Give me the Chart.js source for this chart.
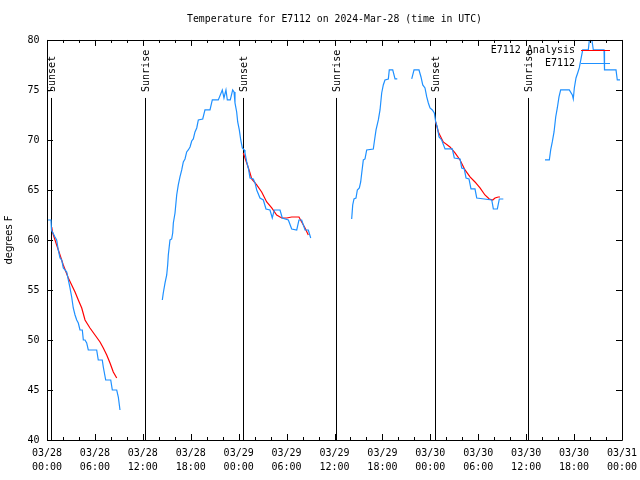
<!DOCTYPE html>
<html>
<head>
<meta charset="utf-8">
<script src="https://cdn.jsdelivr.net/npm/chart.js@4.4.0/dist/chart.umd.min.js"></script>
<style>
  html, body { margin: 0; padding: 0; background: #ffffff; }
  #wrap { width: 640px; height: 480px; }
</style>
</head>
<body>
<div id="wrap"><canvas id="c" width="640" height="480"></canvas></div>
<script>
// ---------- DATA ----------
const chartTitle = 'Temperature for E7112 on 2024-Mar-28 (time in UTC)';
const yAxisTitle = 'degrees F';

// x tick labels (every 6 hours from 03/28 00:00 UTC)
const tickDates = ['03/28','03/28','03/28','03/28','03/29','03/29','03/29','03/29','03/30','03/30','03/30','03/30','03/31'];
const tickTimes = ['00:00','06:00','12:00','18:00','00:00','06:00','12:00','18:00','00:00','06:00','12:00','18:00','00:00'];

// sunrise / sunset markers (hours since 03/28 00:00)
const eventHours  = [0.5, 12.31, 24.58, 36.19, 48.63, 60.27];
const eventLabels = ['Sunset','Sunrise','Sunset','Sunrise','Sunset','Sunrise'];

// Observed series "E7112" (hours since start, deg F); null = gap
const obsHours = [
  0.13,0.5,0.56,1.0,1.21,1.41,1.63,1.84,2.04,2.25,2.47,2.67,2.88,3.09,3.29,3.51,3.72,3.92,4.13,4.42,4.55,4.76,4.97,5.17,6.22,6.42,6.92,7.05,7.35,7.98,8.18,8.73,8.93,9.14,
  11.5,
  14.44,14.56,14.78,14.99,15.11,15.19,15.40,15.61,15.74,15.82,16.03,16.24,16.44,16.65,16.87,17.07,17.28,17.49,17.69,17.91,18.12,18.32,18.53,18.75,18.95,19.50,19.78,20.41,20.70,21.45,21.95,22.16,22.41,22.58,22.95,23.25,23.42,23.54,23.75,23.88,24.08,24.26,24.46,24.71,24.79,25.01,25.21,25.42,25.83,26.05,26.26,26.67,27.09,27.42,27.92,28.21,28.46,29.18,29.46,30.22,30.64,31.27,31.55,31.89,32.31,32.72,33.02,
  35.5,
  38.15,38.28,38.44,38.69,38.86,39.11,39.28,39.41,39.61,39.82,40.03,40.86,40.98,41.20,41.49,41.70,41.91,42.11,42.32,42.74,42.86,43.29,43.58,43.86,
  44.8,
  45.67,45.96,46.58,46.83,47.05,47.33,47.55,47.75,47.96,48.25,48.50,48.67,48.87,49.09,49.42,49.84,50.75,51.00,51.72,51.93,52.25,52.47,52.84,53.09,53.59,53.81,54.76,55.69,55.89,56.39,56.64,57.14,
  60.0,
  62.36,62.90,63.07,63.27,63.49,63.70,63.90,64.11,64.32,65.40,65.78,65.90,66.03,66.24,66.45,66.65,67.08,67.78,68.05,68.41,69.75,69.81,71.25,71.41,71.75
];
const obsTemps = [
  62,62,61,60.3,60,59,58.2,58,57.2,57,56.8,56,55.2,54.3,53.2,52.5,52,51.7,51,51,50,50,49.7,49,49,48,48,47.3,46,46,45,45,44.3,43,
  null,
  54,54.7,55.7,56.5,57.5,58.5,60,60.1,60.7,61.7,62.7,64.5,65.5,66.3,67,67.8,68.1,68.8,69,69.3,69.9,70.1,70.8,71.2,72,72.1,73,73,74,74,75,74.2,75,74,74,75,74.8,73.7,72.8,71.8,71,70,69.2,69,68.7,67.8,67.2,66.2,66.1,65.7,65,64.2,64,63.1,63,62.2,63,63,62.2,62,61.1,61,62,62,61,61,60.2,
  null,
  62.1,63.5,64.1,64.2,65,65.2,65.8,66.7,68,68.1,69,69.1,69.8,71,72,73,74.7,75.5,76,76.1,77,77,76.1,76.1,
  null,
  76.1,77,77,76.3,75.5,75.2,74.3,73.7,73.2,73,72.7,71.8,71.3,70.3,70,69.1,69.1,68.2,68.1,67.2,67.1,66.2,66.1,65.1,65.1,64.2,64.1,64,63.1,63.1,64.1,64.1,
  null,
  68,68,69,69.8,70.8,72.3,73.2,74.3,75,75,74.5,74.1,75.2,76.2,76.7,77.2,79,79,81,79,79,77,77,76,76
];

// Analysis series "E7112 Analysis"
const anaHours = [
  0.59,0.71,1.21,1.63,2.04,2.67,3.09,3.51,3.92,4.35,4.76,5.38,6.01,6.64,7.05,7.48,7.89,8.30,8.73,
  16.0,
  24.58,25.01,25.42,25.63,26.26,26.88,27.51,28.14,28.76,29.39,30.02,30.64,31.55,31.89,32.31,32.72,
  40.0,
  48.67,49.00,49.62,50.46,51.09,51.72,52.34,52.97,53.59,54.22,54.84,55.38,55.81,56.10,56.51,56.72
];
const anaTemps = [
  61.3,60.7,59.5,58.5,57.5,56.2,55.5,54.8,54,53.2,52,51.2,50.5,49.8,49.2,48.5,47.7,46.8,46.2,
  null,
  68.7,67.7,66.7,66.1,65.5,64.8,63.8,63.2,62.5,62.2,62.2,62.3,62.3,61.8,61.2,60.5,
  null,
  71.8,70.8,69.8,69.3,68.7,68,67,66.3,65.8,65.2,64.5,64.1,64,64.2,64.3,64.3
];

// ---------- BUILD ----------
const toPts = (xs, ys) => xs.map((x, i) => ({ x: x, y: ys[i] }));
const MONO = '"DejaVu Sans Mono", "Liberation Mono", monospace';

const eventPlugin = {
  id: 'events',
  beforeDatasetsDraw(chart) {
    const { ctx, chartArea, scales } = chart;
    const h = chartArea.bottom - chartArea.top;
    ctx.save();
    ctx.strokeStyle = '#000';
    ctx.lineWidth = 1;
    ctx.fillStyle = '#000';
    ctx.font = '10px ' + MONO;
    eventHours.forEach((hr, i) => {
      const x = Math.round(scales.x.getPixelForValue(hr)) + 0.5;
      const yTop = chartArea.top + 0.145 * h;
      ctx.beginPath();
      ctx.moveTo(x, yTop);
      ctx.lineTo(x, chartArea.bottom);
      ctx.stroke();
      ctx.save();
      ctx.translate(x + 1, chartArea.top + 0.13 * h);
      ctx.rotate(-Math.PI / 2);
      ctx.textAlign = 'left';
      ctx.textBaseline = 'middle';
      ctx.fillText(eventLabels[i], 0, 0);
      ctx.restore();
    });
    ctx.restore();
  }
};

const framePlugin = {
  id: 'frame',
  afterDraw(chart) {
    const { ctx, chartArea, scales } = chart;
    const { left, right, top, bottom } = chartArea;
    ctx.save();
    ctx.strokeStyle = '#000';
    ctx.lineWidth = 1;
    ctx.beginPath();
    ctx.rect(Math.round(left) + 0.5, Math.round(top) + 0.5, Math.round(right - left), Math.round(bottom - top));
    ctx.stroke();
    ctx.beginPath();
    // x ticks: major every 6h, minor every 2h
    for (let v = scales.x.min; v <= scales.x.max + 1e-9; v += 2) {
      const x = Math.round(scales.x.getPixelForValue(v)) + 0.5;
      const len = (v % 6 === 0) ? 6 : 3;
      ctx.moveTo(x, bottom); ctx.lineTo(x, bottom - len);
      ctx.moveTo(x, top); ctx.lineTo(x, top + len);
    }
    // y ticks every 5
    for (let v = scales.y.min; v <= scales.y.max + 1e-9; v += 5) {
      const y = Math.round(scales.y.getPixelForValue(v)) + 0.5;
      ctx.moveTo(left, y); ctx.lineTo(left + 6, y);
      ctx.moveTo(right, y); ctx.lineTo(right - 6, y);
    }
    ctx.stroke();

    // key (legend) at top right inside plot
    ctx.font = '10px ' + MONO;
    ctx.textAlign = 'right';
    ctx.textBaseline = 'middle';
    const keyOrder = [1, 0];
    keyOrder.forEach((di, k) => {
      const ds = chart.data.datasets[di];
      const y = Math.round(top + 10 + k * 13) + 0.5;
      ctx.fillStyle = '#000';
      ctx.fillText(ds.label, right - 47, y);
      ctx.strokeStyle = ds.borderColor;
      ctx.beginPath();
      ctx.moveTo(right - 41, y);
      ctx.lineTo(right - 12, y);
      ctx.stroke();
    });
    ctx.restore();
  }
};

new Chart(document.getElementById('c'), {
  type: 'line',
  data: {
    datasets: [
      {
        label: 'E7112',
        data: toPts(obsHours, obsTemps),
        borderColor: '#1e90ff',
        borderWidth: 1.2,
        pointRadius: 0,
        tension: 0,
        spanGaps: false,
        fill: false
      },
      {
        label: 'E7112 Analysis',
        data: toPts(anaHours, anaTemps),
        borderColor: '#ff0000',
        borderWidth: 1.2,
        pointRadius: 0,
        tension: 0,
        spanGaps: false,
        fill: false
      }
    ]
  },
  options: {
    responsive: false,
    animation: false,
    devicePixelRatio: 1,
    parsing: true,
    layout: { padding: { left: 0, right: 18, top: 0, bottom: 0 } },
    plugins: {
      legend: { display: false },
      tooltip: { enabled: false },
      title: {
        display: true,
        fullSize: false,
        text: chartTitle,
        color: '#000',
        font: { family: MONO, size: 9.8, weight: 'normal', lineHeight: 1.2 },
        padding: { top: 14, bottom: 14.2 }
      }
    },
    scales: {
      x: {
        type: 'linear',
        min: 0,
        max: 72,
        grid: { display: false, drawTicks: false },
        border: { display: false },
        ticks: {
          stepSize: 6,
          autoSkip: false,
          maxRotation: 0,
          minRotation: 0,
          padding: 7,
          color: '#000',
          font: { family: MONO, size: 10, lineHeight: 1.35 },
          callback: (v) => {
            const i = Math.round(v / 6);
            return [tickDates[i], tickTimes[i]];
          }
        },
        afterFit: (s) => { s.height = 40; s.paddingLeft = 0; s.paddingRight = 0; }
      },
      y: {
        min: 40,
        max: 80,
        grid: { display: false, drawTicks: false },
        border: { display: false },
        ticks: {
          stepSize: 5,
          padding: 7.5,
          color: '#000',
          font: { family: MONO, size: 10 }
        },
        title: {
          display: true,
          text: yAxisTitle,
          color: '#000',
          font: { family: '"DejaVu Sans", sans-serif', size: 10, lineHeight: 1.2 },
          padding: { top: 3, bottom: 0 }
        },
        afterFit: (s) => { s.width = 47; s.paddingTop = 0; s.paddingBottom = 0; }
      }
    }
  },
  plugins: [eventPlugin, framePlugin]
});
</script>
</body>
</html>
